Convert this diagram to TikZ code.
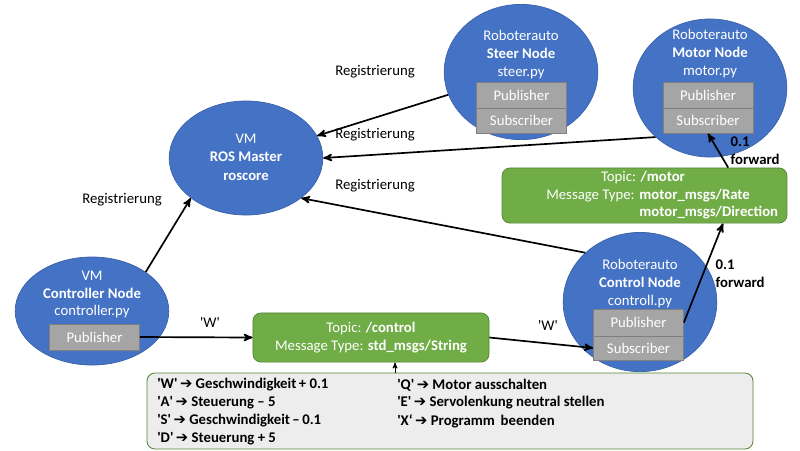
\documentclass[tikz,border=0pt]{standalone}
\usepackage{fontspec}
\setmainfont{Carlito}
\newfontfamily\symfont{DejaVu Sans}
\usepackage{tikz}
\usetikzlibrary{calc}
\usetikzlibrary{arrows}
\usetikzlibrary{shapes.geometric}
\definecolor{rosblue}{HTML}{4472C4}
\definecolor{rosedge}{HTML}{3A62AC}
\definecolor{pubgray}{HTML}{A5A5A5}
\definecolor{pubedge}{HTML}{7F7F7F}
\definecolor{topicgreen}{HTML}{70AD47}
\definecolor{topicedge}{HTML}{548235}
\definecolor{legendfill}{HTML}{EDEDED}
\newcommand{\keyq}[1]{\textquotesingle#1\textquotesingle}
\newcommand{\keyarrow}{{\symfont ➔}}
\tikzset{
  rosnode/.style={ellipse, fill=rosblue, draw=rosedge, line width=0.5pt, inner sep=0pt, minimum width=3.84cm},
  rostext/.style={text=white, align=center, inner sep=0pt, font=\fontsize{10.5}{12.5}\selectfont},
  pubbox/.style={rectangle, fill=pubgray, draw=pubedge, line width=0.5pt, minimum width=2.25cm, text=white, inner sep=0pt},
  topicbox/.style={rectangle, rounded corners=0.2cm, fill=topicgreen, draw=topicedge, line width=0.5pt, inner sep=0pt},
  regarrow/.style={black, line width=1.2pt, ->, >=stealth'},
  label/.style={black, inner sep=1pt},
}

\begin{document}
\begin{tikzpicture}[x=0.025cm, y=-0.025cm, font=\fontsize{10.5}{12.5}\selectfont]
\useasboundingbox (0,0) rectangle (800,450);
% ROS nodes
\node[rosnode, minimum height=2.85cm] (master) at (246,158) {};
\node[rosnode, minimum height=2.70cm] (controller) at (92,311) {};
\node[rosnode, minimum height=3.38cm] (steer) at (521,72) {};
\node[rosnode, minimum height=3.45cm] (motor) at (710,88) {};
\node[rosnode, minimum height=3.48cm] (control) at (640,302) {};
\node[rostext, font=\fontsize{10.5}{13.2}\selectfont] (masterTxt) at (246,157) {VM\\\textbf{ROS Master}\\\textbf{roscore}};
\node[rostext] (controllerTxt) at (92,294.5) {VM\\\textbf{Controller Node}\\controller.py};
\node[rostext] (steerTxt) at (521,54.5) {Roboterauto\\\textbf{Steer Node}\\steer.py};
\node[rostext] (motorTxt) at (710,53.5) {Roboterauto\\\textbf{Motor Node}\\motor.py};
\node[rostext] (controlTxt) at (640,283.5) {Roboterauto\\\textbf{Control Node}\\controll.py};
% publisher / subscriber
\node[pubbox, minimum height=0.65cm] (controllerPub) at (94.5,337) {Publisher};
\node[pubbox, minimum height=0.65cm] (steerPub) at (521.5,95) {Publisher};
\node[pubbox, minimum height=0.63cm] (steerSub) at (521.5,120.5) {Subscriber};
\node[pubbox, minimum height=0.65cm] (motorPub) at (708,95) {Publisher};
\node[pubbox, minimum height=0.63cm] (motorSub) at (708,120.5) {Subscriber};
\node[pubbox, minimum height=0.67cm] (controlPub) at (638.5,322.5) {Publisher};
\node[pubbox, minimum height=0.60cm] (controlSub) at (638.5,348) {Subscriber};
% topics
\node[topicbox, minimum width=5.9cm, minimum height=1.23cm] (controlTopic) at (371,337.5) {};
\node[rostext] (controlTopicTxt) at (371,337.5) {Topic: \textbf{/control}\\Message Type: \textbf{std\_msgs/String}};
\node[topicbox, minimum width=7.12cm, minimum height=1.38cm] (motorTopic) at (644.5,195.5) {};
\node[rostext] (motorTopicTxt) at (643,178) {Topic: \textbf{/motor}};
\node[rostext, anchor=east, inner xsep=1.5pt] (motorTypeTxt) at (637,196) {Message Type:};
\node[rostext, anchor=west, inner xsep=1.5pt] (motorRateTxt) at (637,196) {\textbf{motor\_msgs/Rate}};
\node[rostext, anchor=west, inner xsep=1.5pt] (motorDirTxt) at (637,213) {\textbf{motor\_msgs/Direction}};
% key legend
\draw[topicedge, fill=legendfill, rounded corners=0.2cm, line width=0.6pt] (147,373) rectangle (753,449);
\coordinate (legendTip) at (395,373);
\node[anchor=west, inner sep=0pt] (keyW) at (157,385) {\textbf{\keyq{W}\,\keyarrow\ Geschwindigkeit\,+ 0.1}};
\node[anchor=west, inner sep=0pt] (keyA) at (157,403) {\textbf{\keyq{A}\,\keyarrow\ Steuerung -- 5}};
\node[anchor=west, inner sep=0pt] (keyS) at (157,421) {\textbf{\keyq{S}\,\keyarrow\ Geschwindigkeit\,--\,0.1}};
\node[anchor=west, inner sep=0pt] (keyD) at (157,439) {\textbf{\keyq{D}\,\keyarrow\ Steuerung + 5}};
\node[anchor=west, inner sep=0pt] (keyQ) at (397,385) {\textbf{\keyq{Q}\,\keyarrow\ Motor ausschalten}};
\node[anchor=west, inner sep=0pt] (keyE) at (397,403) {\textbf{\keyq{E}\,\keyarrow\ Servolenkung neutral stellen}};
\node[anchor=west, inner sep=0pt] (keyX) at (397,421) {\textbf{\textquotesingle X‘\,\keyarrow\ Programm\, beenden}};
% registration
\draw[regarrow] (steer) -- (master);
\draw[regarrow] (motor.222) -- (master.east);
\draw[regarrow] (control.138) -- (master.324);
\draw[regarrow] (controller.36) -- (master.216);
\node[label] (regSteer) at (375,72) {Registrierung};
\node[label] (regMotor) at (375,135) {Registrierung};
\node[label] (regControl) at (375,186) {Registrierung};
\node[label] (regController) at (122,200) {Registrierung};
% messages
\draw[regarrow] (controllerPub.east) -- (controlTopic.west);
\draw[regarrow] (controlTopic.east) -- (controlSub.west);
\draw[regarrow] (controlPub.east) -- ($(motorTopic.south east)!0.225!(motorTopic.south west)$);
\draw[regarrow] ($(motorTopic.north east)!0.207!(motorTopic.north west)$) -- (motorSub.south);
\draw[black, line width=0.6pt, ->, >=stealth'] (legendTip) -- (legendTip |- controlTopic.south);
\node[label] (msgW1) at (210,323) {\keyq{W}};
\node[label] (msgW2) at (548,326) {\keyq{W}};
\node[label, anchor=west, align=left] (fwdMotor) at (729,150.5) {\textbf{0.1}\\\textbf{forward}};
\node[label, anchor=west, align=left] (fwdControl) at (714,273.5) {\textbf{0.1}\\\textbf{forward}};
\end{tikzpicture}
\end{document}
